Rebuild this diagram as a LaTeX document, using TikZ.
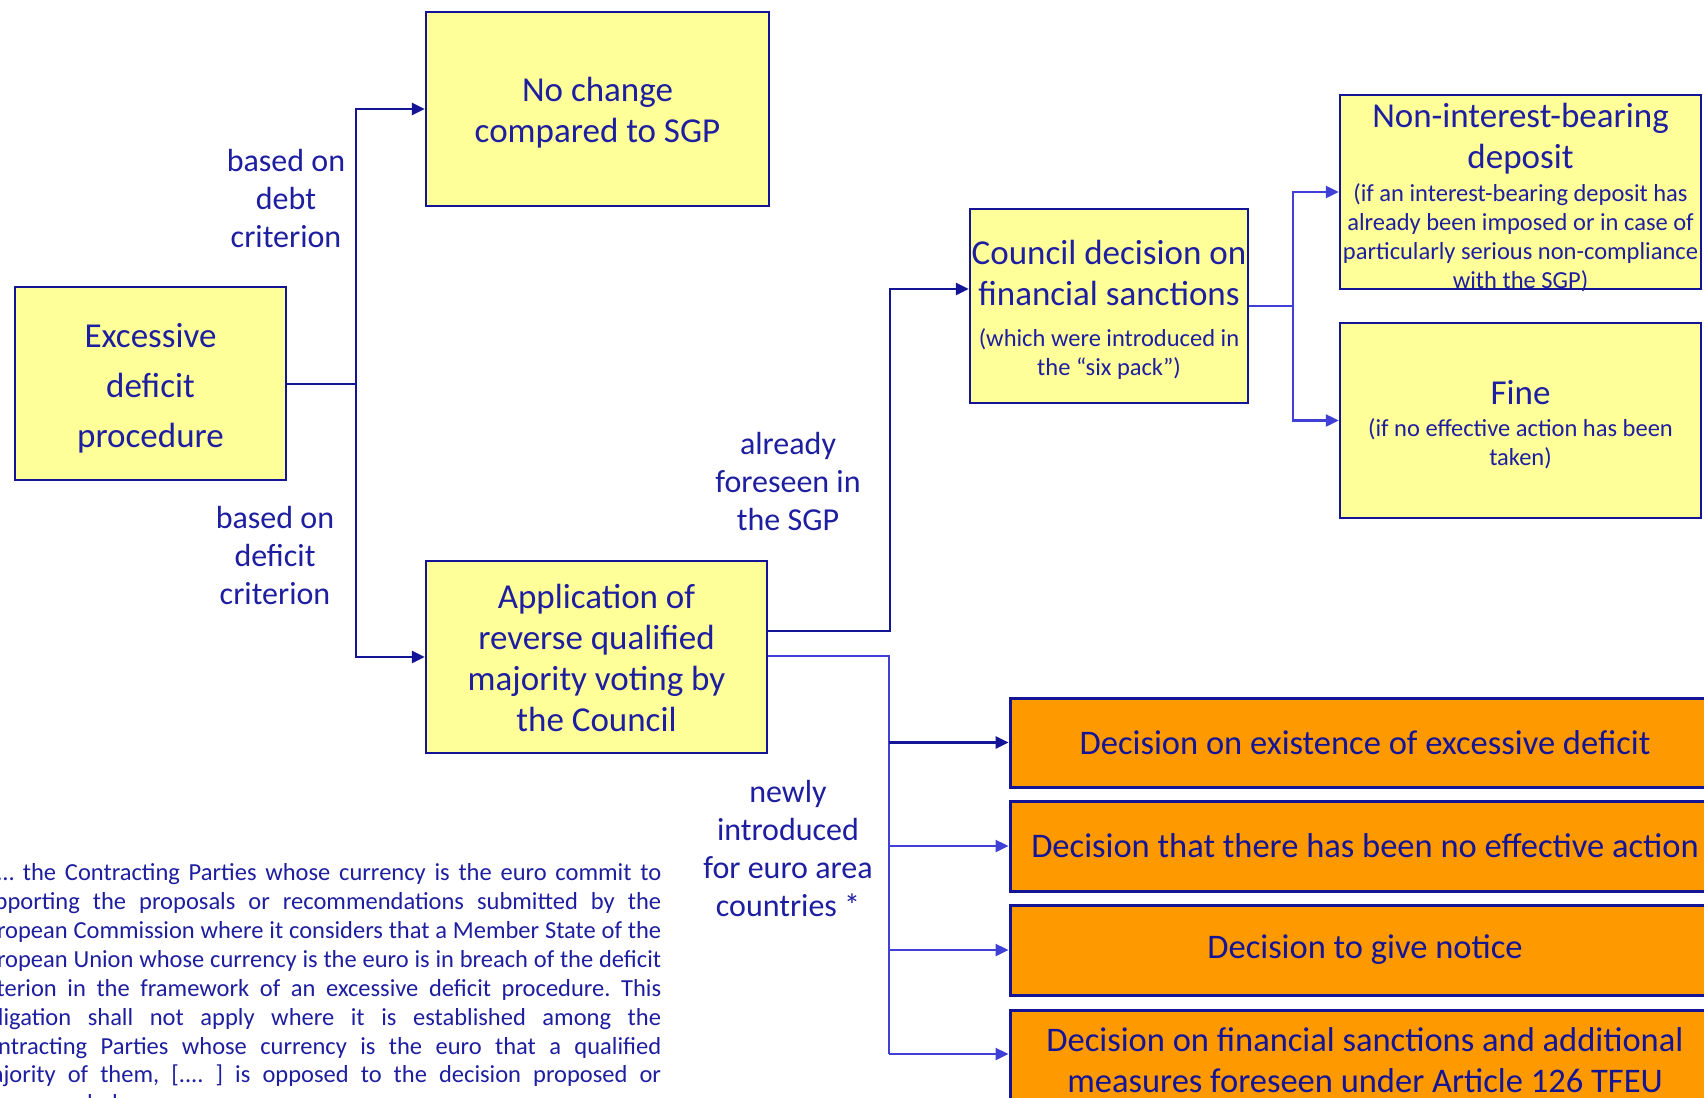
\documentclass[tikz,border=0pt]{standalone}
\usepackage{fontspec}
\setmainfont{Carlito}
\usetikzlibrary{arrows.meta}
\definecolor{txtblue}{RGB}{30,30,160}
\definecolor{navy}{RGB}{20,20,150}
\definecolor{lineblue}{RGB}{64,64,215}
\definecolor{boxyellow}{RGB}{255,255,153}
\definecolor{boxorange}{RGB}{255,153,0}
\newcommand{\subtext}{\fontsize{24.5}{29}\selectfont}
\frenchspacing
\begin{document}
\begin{tikzpicture}[x=1pt,y=-1pt,
  ybox/.style={draw=navy, line width=2.5pt, fill=boxyellow, inner sep=0pt},
  btext/.style={text=txtblue, inner sep=0pt, align=flush center,
    font=\fontsize{35}{41}\selectfont},
  obox/.style={draw=navy, line width=3pt, fill=boxorange, text=navy,
    inner sep=0pt, align=flush center, text width=710pt,
    font=\fontsize{34.5}{41}\selectfont},
  lbl/.style={text=txtblue, align=center, inner sep=0pt, font=\fontsize{32}{38}\selectfont},
  conn/.style={draw=navy, line width=2.6pt},
  connl/.style={draw=lineblue, line width=2.4pt},
  arr/.style={-{Triangle[length=13pt,width=12pt]}},
  note/.style={text=txtblue, inner sep=0pt, anchor=base west, font=\fontsize{24.5}{29}\selectfont}
]
\fill[white] (0,0) rectangle (1704,1097);
\useasboundingbox (0,0) rectangle (1704,1097);

% yellow boxes
\node[ybox, minimum width=271pt, minimum height=193pt] (edp) at (150.5,383.5) {};
\node[ybox, minimum width=343pt, minimum height=194pt] (nochange) at (597.5,109) {};
\node[ybox, minimum width=341pt, minimum height=192pt] (apply) at (596.5,657) {};
\node[ybox, minimum width=278pt, minimum height=194pt] (council) at (1109,306) {};
\node[ybox, minimum width=361pt, minimum height=194pt] (deposit) at (1520.5,192) {};
\node[ybox, minimum width=361pt, minimum height=195pt] (fine) at (1520.5,420.5) {};

% their texts
\node[btext, text width=271pt, font=\fontsize{35}{50}\selectfont] (edptext) at (150.5,388)
  {Excessive\\deficit\\procedure\par};
\node[btext, text width=343pt] (nochangetext) at (597.5,113)
  {No change\\compared to SGP\par};
\node[btext, text width=341pt] (applytext) at (596.5,658)
  {Application of\\reverse qualified\\majority voting by\\the Council\par};
\node[btext, text width=278pt] (counciltext) at (1109,310)
  {\mbox{Council decision on}\\financial sanctions\\[12pt]\subtext (which were introduced in\\the “six pack”)\par};
\node[btext, text width=361pt] (deposittext) at (1520.5,198)
  {Non-interest-bearing\\deposit\\[4pt]\subtext (if an interest-bearing deposit has\\already been imposed or in case of\\\mbox{particularly serious non-compliance}\\with the SGP)\par};
\node[btext, text width=361pt] (finetext) at (1520.5,424.5)
  {Fine\\[3pt]\subtext (if no effective action has been\\taken)\par};

% decisions taken by reverse qualified majority
\node[obox, minimum height=89pt] (o1) at (1365,742.5) {Decision on existence of excessive deficit};
\node[obox, minimum height=90pt] (o2) at (1365,846) {Decision that there has been no effective action};
\node[obox, minimum height=90pt] (o3) at (1365,950) {Decision to give notice};
\node[obox, minimum height=100pt] (o4) at (1365,1060) {Decision on financial sanctions and additional\\measures foreseen under Article 126 TFEU};

% branch labels
\node[lbl] (ldebt) at (286,199) {based on\\debt\\criterion};
\node[lbl] (ldef) at (275,556) {based on\\deficit\\criterion};
\node[lbl] (lsgp) at (788,482) {already\\foreseen in\\the SGP};
\node[lbl] (lnew) at (788,848) {newly\\introduced\\for euro area\\countries *};

% connectors
\coordinate (j1) at (356,384);
\draw[conn] (edp.east |- j1) -- (j1);
\draw[conn, arr] (j1) |- (nochange.west);
\draw[conn, arr] (j1) |- (apply.west);

\coordinate (a1) at (890,631);
\coordinate (a2) at (890,289);
\draw[conn, arr] (apply.east |- a1) -- (a1) -- (a2) -- (council.west |- a2);

\coordinate (c1) at (1293,306);
\draw[connl] (council.east) -- (c1);
\draw[connl, arr] (c1) |- (deposit.west);
\draw[connl, arr] (c1) |- (fine.west);

\coordinate (s1) at (889,656);
\coordinate (s2) at (889,1054);
\draw[connl] (apply.east |- s1) -- (s1) -- (s2);
\draw[conn, arr] (o1.west -| s1) -- (o1.west);
\draw[connl, arr] (o2.west -| s1) -- (o2.west);
\draw[connl, arr] (o3.west -| s1) -- (o3.west);
\draw[connl, arr] (s2) -- (o4.west |- s2);

% quoted treaty provision
\node[note] (n1) at (-3,880) {\makebox[664pt][s]{… the Contracting Parties whose currency is the euro commit to}};
\node[note] (n2) at (-28,909) {\makebox[689pt][s]{supporting the proposals or recommendations submitted by the}};
\node[note] (n3) at (-28,938) {\makebox[689pt][s]{European Commission where it considers that a Member State of the}};
\node[note] (n4) at (-28,967) {\makebox[689pt][s]{European Union whose currency is the euro is in breach of the deficit}};
\node[note] (n5) at (-28,996) {\makebox[689pt][s]{criterion in the framework of an excessive deficit procedure. This}};
\node[note] (n6) at (-28,1025) {\makebox[689pt][s]{obligation shall not apply where it is established among the}};
\node[note] (n7) at (-28,1054) {\makebox[689pt][s]{Contracting Parties whose currency is the euro that a qualified}};
\node[note] (n8) at (-28,1082) {\makebox[689pt][s]{majority of them, [.... ] is opposed to the decision proposed or}};
\node[note] (n9) at (-28,1111) {recommended.};
\end{tikzpicture}
\end{document}
